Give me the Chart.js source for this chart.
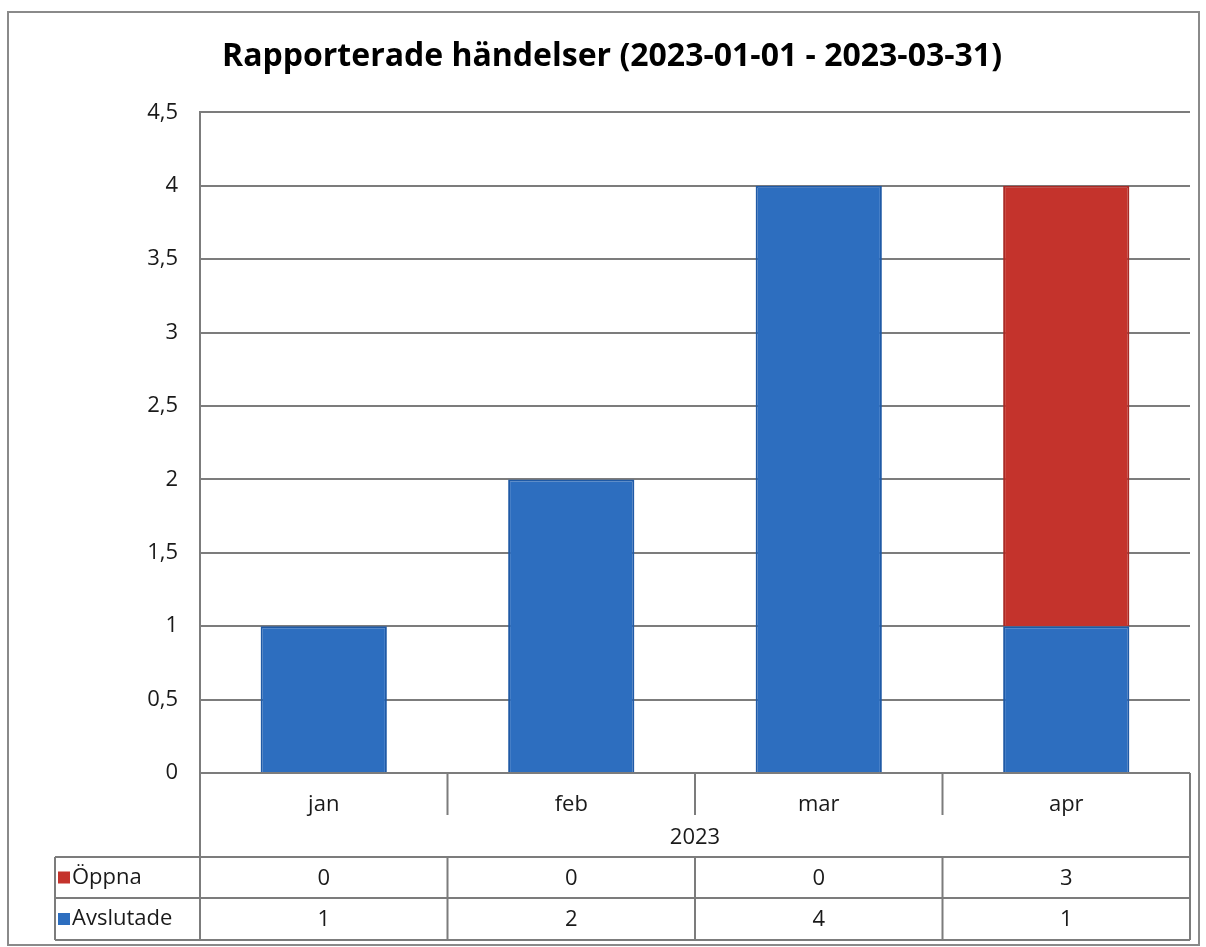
<!DOCTYPE html>
<html>
<head>
<meta charset="utf-8">
<script src="https://cdn.jsdelivr.net/npm/chart.js@4/dist/chart.umd.min.js"></script>
<style>
  html, body { margin: 0; padding: 0; background: #fff; }
</style>
</head>
<body>
<canvas id="chart" width="1206" height="947"></canvas>
<script>
const months = ['jan', 'feb', 'mar', 'apr'];
const yearLabel = '2023';
const oppna = [0, 0, 0, 3];
const avslutade = [1, 2, 4, 1];
const yTicks = [0, 0.5, 1, 1.5, 2, 2.5, 3, 3.5, 4, 4.5];
const titleText = 'Rapporterade händelser (2023-01-01 - 2023-03-31)';

const FONT = "'Open Sans', sans-serif";
const LINE = '#7c7c7c';
const BLUE = '#2d6ebf';
const RED = '#c4332c';
const TEXT = '#1a1a1a';

// Excel style data table under the plot, columns follow the x scale
const dataTable = {
  id: 'dataTable',
  beforeDraw(chart) {
    const ctx = chart.ctx;
    ctx.save();
    ctx.fillStyle = '#fff';
    ctx.fillRect(0, 0, chart.width, chart.height);
    ctx.strokeStyle = '#8a8a8a';
    ctx.lineWidth = 2;
    ctx.strokeRect(8, 12, chart.width - 15, chart.height - 14);
    ctx.restore();
  },
  afterDraw(chart) {
    const { ctx, chartArea: a, scales: { x } } = chart;
    const step = x.width / months.length;
    const top = a.bottom;
    const catBottom = top + 84;
    const row1 = catBottom + 41;
    const row2 = row1 + 42;
    const legLeft = 55;

    ctx.save();
    ctx.strokeStyle = LINE;
    ctx.lineWidth = 2;
    ctx.beginPath();
    // outer verticals
    ctx.moveTo(a.left, top); ctx.lineTo(a.left, row2);
    ctx.moveTo(a.right, top); ctx.lineTo(a.right, row2);
    ctx.moveTo(legLeft, catBottom); ctx.lineTo(legLeft, row2);
    // horizontals
    [catBottom, row1, row2].forEach(y => { ctx.moveTo(legLeft, y); ctx.lineTo(a.right, y); });
    // column dividers
    for (let i = 1; i < months.length; i++) {
      const xx = x.left + i * step;
      ctx.moveTo(xx, top); ctx.lineTo(xx, top + 42);
      ctx.moveTo(xx, catBottom); ctx.lineTo(xx, row2);
    }
    ctx.stroke();

    ctx.fillStyle = TEXT;
    ctx.font = '22px ' + FONT;
    ctx.textAlign = 'center';
    ctx.textBaseline = 'middle';
    ctx.fillText(yearLabel, (a.left + a.right) / 2, top + 65);

    const rows = [
      { name: 'Öppna', data: oppna, color: RED, y: (catBottom + row1) / 2 },
      { name: 'Avslutade', data: avslutade, color: BLUE, y: (row1 + row2) / 2 }
    ];
    rows.forEach(r => {
      r.data.forEach((v, i) => {
        ctx.fillStyle = TEXT;
        ctx.textAlign = 'center';
        ctx.fillText(String(v), x.getPixelForValue(i), r.y + 1);
      });
      ctx.fillStyle = r.color;
      ctx.fillRect(legLeft + 3, r.y - 6, 12, 12);
      ctx.fillStyle = TEXT;
      ctx.textAlign = 'left';
      ctx.fillText(r.name, legLeft + 17, r.y);
    });
    ctx.restore();
  }
};

new Chart(document.getElementById('chart'), {
  type: 'bar',
  data: {
    labels: months,
    datasets: [
      { label: 'Avslutade', data: avslutade, backgroundColor: BLUE, borderColor: '#1f5aa6', borderWidth: 2 },
      { label: 'Öppna', data: oppna, backgroundColor: RED, borderColor: '#a92a25', borderWidth: 2 }
    ]
  },
  options: {
    responsive: false,
    animation: false,
    layout: { padding: { left: 34, right: 16, bottom: 124 } },
    datasets: { bar: { barPercentage: 0.51, categoryPercentage: 1 } },
    plugins: {
      legend: { display: false },
      tooltip: { enabled: false },
      title: {
        display: true,
        text: titleText,
        color: '#000',
        font: { family: FONT, size: 32, weight: 'bold' },
        padding: { top: 38, bottom: 36 }
      }
    },
    scales: {
      x: {
        stacked: true,
        grid: { display: false },
        border: { display: false },
        ticks: { color: TEXT, font: { family: FONT, size: 22 }, padding: 11 },
        afterFit(scale) { scale.height = 50; }
      },
      y: {
        stacked: true,
        min: 0,
        max: 4.5,
        afterBuildTicks(scale) { scale.ticks = yTicks.map(v => ({ value: v })); },
        grid: { color: LINE, lineWidth: 2, drawTicks: false },
        border: { display: true, color: LINE, width: 2 },
        ticks: {
          color: TEXT,
          font: { family: FONT, size: 22 },
          padding: 22,
          callback: v => String(v).replace('.', ',')
        },
        afterFit(scale) { scale.width = 166; }
      }
    }
  },
  plugins: [dataTable]
});
</script>
</body>
</html>
